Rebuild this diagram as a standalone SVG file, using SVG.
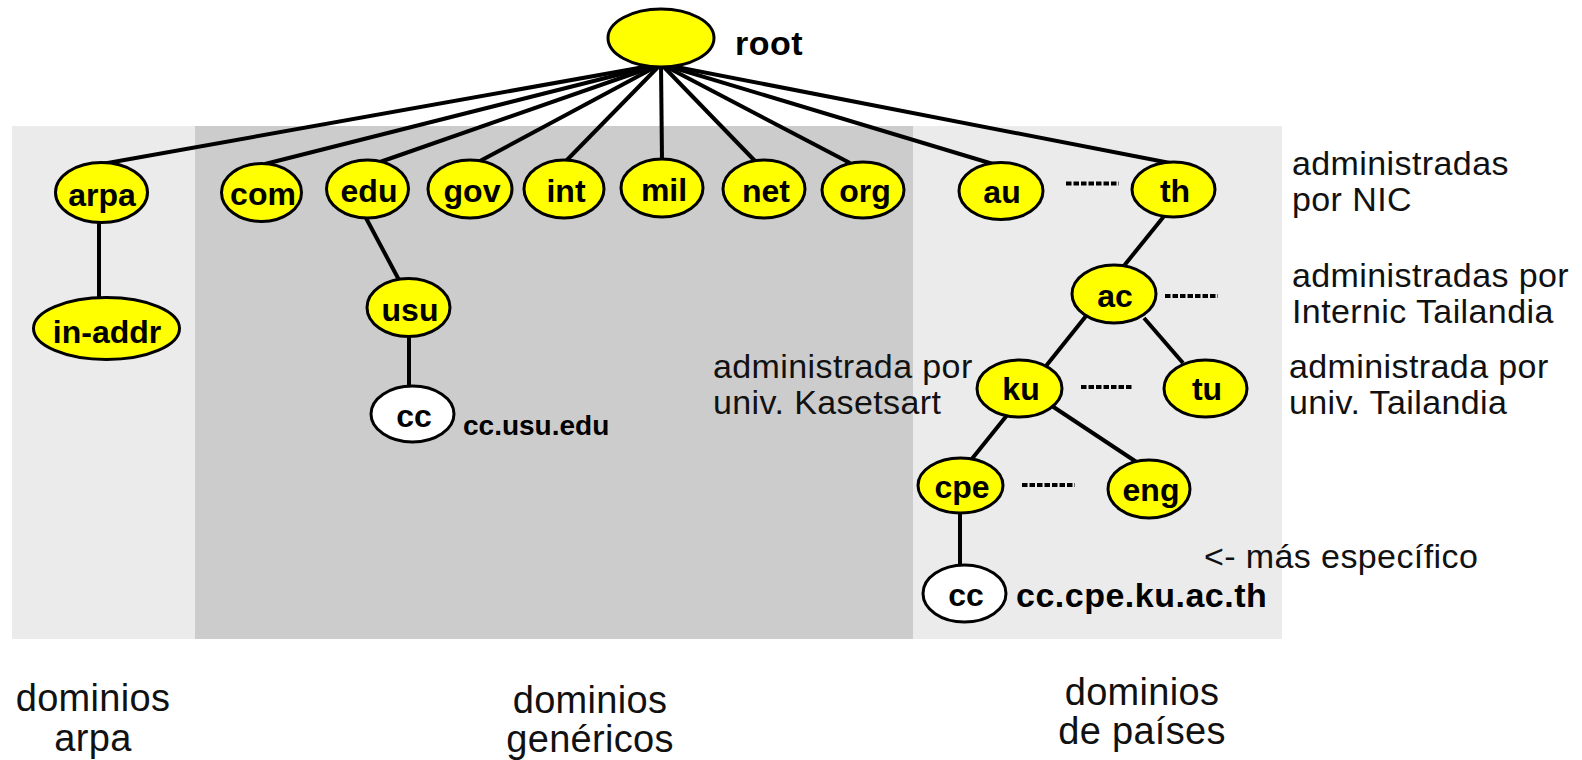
<svg xmlns="http://www.w3.org/2000/svg" width="1582" height="760" viewBox="0 0 1582 760">
<style>
.bg1{fill:#EBEBEB}
.bg2{fill:#CCCCCC}
.n{fill:#FFFF00;stroke:#000;stroke-width:3}
.w{fill:#FFFFFF;stroke:#000;stroke-width:3}
.c line{stroke:#000;stroke-width:4;stroke-linecap:butt}
.d{stroke:#000;stroke-width:5;stroke-dasharray:5.5 2}
.lb{font-family:"Liberation Sans",Arial,sans-serif;font-weight:bold;font-size:32px;text-anchor:middle;fill:#000}
.t{font-family:"Liberation Sans",Arial,sans-serif;font-size:34px;letter-spacing:0.4px;fill:#111}
.b{font-family:"Liberation Sans",Arial,sans-serif;font-size:38px;letter-spacing:0.3px;text-anchor:middle;fill:#111}
.bt{font-family:"Liberation Sans",Arial,sans-serif;font-weight:bold;fill:#000}
</style>
<rect width="1582" height="760" fill="#FFFFFF"/>
<rect class="bg1" x="12" y="126" width="1270" height="513"/>
<rect class="bg2" x="195" y="126" width="718" height="513"/>

<g id="connectors" class="c">
<line x1="661" y1="64" x2="102" y2="164"/>
<line x1="661" y1="64" x2="265" y2="164"/>
<line x1="661" y1="64" x2="380" y2="162"/>
<line x1="661" y1="64" x2="480" y2="161"/>
<line x1="661" y1="64" x2="566" y2="161"/>
<line x1="661" y1="64" x2="662" y2="160"/>
<line x1="661" y1="64" x2="755" y2="161"/>
<line x1="661" y1="64" x2="850" y2="163"/>
<line x1="661" y1="64" x2="993" y2="164"/>
<line x1="661" y1="64" x2="1170" y2="163"/>
<line x1="99" y1="222" x2="99" y2="298"/>
<line x1="366" y1="218" x2="399" y2="280"/>
<line x1="409" y1="336" x2="409" y2="387"/>
<line x1="1165" y1="215" x2="1123" y2="267"/>
<line x1="1086" y1="316" x2="1046" y2="366"/>
<line x1="1144" y1="318" x2="1183" y2="363"/>
<line x1="1008" y1="414" x2="971" y2="460"/>
<line x1="1052" y1="406" x2="1138" y2="463"/>
<line x1="960" y1="512" x2="960" y2="566"/>
<line class="d" x1="1066" y1="183.5" x2="1119" y2="183.5"/>
<line class="d" x1="1165" y1="296" x2="1218" y2="296"/>
<line class="d" x1="1081" y1="387" x2="1133" y2="387"/>
<line class="d" x1="1022" y1="485" x2="1075" y2="485"/>
</g>

<g id="labels">
<text class="t" x="713" y="378">administrada por</text>
<text class="t" x="713" y="414">univ. Kasetsart</text>
<text class="t" x="1292" y="175">administradas</text>
<text class="t" x="1292" y="211">por NIC</text>
<text class="t" x="1292" y="287">administradas por</text>
<text class="t" x="1292" y="323">Internic Tailandia</text>
<text class="t" x="1289" y="378">administrada por</text>
<text class="t" x="1289" y="414">univ. Tailandia</text>
<text class="t" x="1204" y="568">&lt;- más específico</text>
<text class="b" x="93" y="711">dominios</text>
<text class="b" x="93" y="751">arpa</text>
<text class="b" x="590" y="713">dominios</text>
<text class="b" x="590" y="752">genéricos</text>
<text class="b" x="1142" y="705">dominios</text>
<text class="b" x="1142" y="744">de países</text>
</g>

<g id="root"><ellipse class="n" cx="661" cy="38" rx="53" ry="29"/><text class="bt" x="735" y="55" font-size="34" letter-spacing="0.5">root</text></g>
<g id="arpa"><ellipse class="n" cx="101.5" cy="192.5" rx="46" ry="30"/><text class="lb" x="102" y="206">arpa</text></g>
<g id="in-addr"><ellipse class="n" cx="106.5" cy="328.5" rx="73" ry="31"/><text class="lb" x="107" y="343">in-addr</text></g>
<g id="com"><ellipse class="n" cx="261.5" cy="192.5" rx="40" ry="29"/><text class="lb" x="263" y="205">com</text></g>
<g id="edu"><ellipse class="n" cx="367.5" cy="189" rx="41" ry="29"/><text class="lb" x="369" y="202">edu</text></g>
<g id="gov"><ellipse class="n" cx="470" cy="189" rx="42" ry="29"/><text class="lb" x="472" y="202">gov</text></g>
<g id="int"><ellipse class="n" cx="564" cy="189" rx="40" ry="29"/><text class="lb" x="566" y="202">int</text></g>
<g id="mil"><ellipse class="n" cx="662" cy="188" rx="41" ry="29"/><text class="lb" x="664" y="201">mil</text></g>
<g id="net"><ellipse class="n" cx="764" cy="189" rx="41" ry="29"/><text class="lb" x="766" y="202">net</text></g>
<g id="org"><ellipse class="n" cx="863" cy="190" rx="41" ry="28"/><text class="lb" x="865" y="202">org</text></g>
<g id="au"><ellipse class="n" cx="1001" cy="191" rx="42" ry="28.5"/><text class="lb" x="1002" y="203">au</text></g>
<g id="th"><ellipse class="n" cx="1173.5" cy="189.5" rx="41.5" ry="27.5"/><text class="lb" x="1175" y="202">th</text></g>
<g id="ac"><ellipse class="n" cx="1114" cy="294" rx="42" ry="29"/><text class="lb" x="1115" y="307">ac</text></g>
<g id="ku"><ellipse class="n" cx="1019.5" cy="388.5" rx="42.5" ry="28.5"/><text class="lb" x="1021" y="400">ku</text></g>
<g id="tu"><ellipse class="n" cx="1205.5" cy="388.5" rx="41.5" ry="28.5"/><text class="lb" x="1207" y="400">tu</text></g>
<g id="cpe"><ellipse class="n" cx="960.5" cy="485.5" rx="42.5" ry="27.5"/><text class="lb" x="962" y="498">cpe</text></g>
<g id="eng"><ellipse class="n" cx="1149" cy="489" rx="41" ry="29"/><text class="lb" x="1151" y="501">eng</text></g>
<g id="usu"><ellipse class="n" cx="408.5" cy="307.5" rx="41.5" ry="29"/><text class="lb" x="410" y="321">usu</text></g>
<g id="cc-usu"><ellipse class="w" cx="412.5" cy="414" rx="41.5" ry="28"/><text class="lb" x="414" y="427">cc</text><text class="bt" x="463" y="435" font-size="28" letter-spacing="0">cc.usu.edu</text></g>
<g id="cc-cpe"><ellipse class="w" cx="964.5" cy="593.5" rx="41.5" ry="28.5"/><text class="lb" x="966" y="606">cc</text><text class="bt" x="1016" y="607" font-size="34" letter-spacing="0.5">cc.cpe.ku.ac.th</text></g>
</svg>
